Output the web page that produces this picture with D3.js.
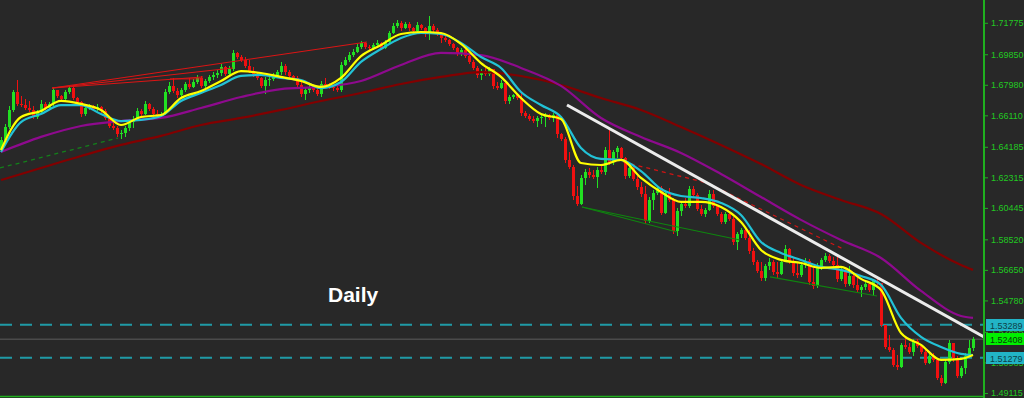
<!DOCTYPE html>
<html>
<head>
<meta charset="utf-8">
<script src="https://cdn.jsdelivr.net/npm/d3@7"></script>
<style>
    html, body { margin: 0; padding: 0; background: #282828; }
    svg { display: block; }
</style>
</head>
<body>
<svg id="chart" width="1024" height="398"></svg>
<script>

//  daily candles, open = previous close
const firstOpen = 1.6399;

const closes = [
    1.6460, 1.6540, 1.6644, 1.6754, 1.6681, 1.6674, 1.6656, 1.6644, 1.6601, 1.6632,
    1.6681, 1.6656, 1.6681, 1.6766, 1.6729, 1.6711, 1.6754, 1.6778, 1.6717, 1.6693,
    1.6619, 1.6656, 1.6668, 1.6650, 1.6662, 1.6638, 1.6595, 1.6546, 1.6534, 1.6497,
    1.6503, 1.6534, 1.6570, 1.6589, 1.6638, 1.6619, 1.6681, 1.6650, 1.6619, 1.6613,
    1.6619, 1.6754, 1.6791, 1.6760, 1.6736, 1.6766, 1.6803, 1.6785, 1.6815, 1.6840,
    1.6791, 1.6821, 1.6846, 1.6858, 1.6870, 1.6907, 1.6864, 1.6895, 1.6993, 1.6968,
    1.6950, 1.6913, 1.6882, 1.6864, 1.6840, 1.6791, 1.6827, 1.6834, 1.6852, 1.6876,
    1.6913, 1.6876, 1.6852, 1.6840, 1.6797, 1.6742, 1.6766, 1.6785, 1.6766, 1.6742,
    1.6803, 1.6791, 1.6785, 1.6778, 1.6766, 1.6919, 1.6950, 1.6980, 1.6999, 1.7029,
    1.7054, 1.7029, 1.7023, 1.7042, 1.7054, 1.7023, 1.7060, 1.7115, 1.7158, 1.7176,
    1.7146, 1.7170, 1.7146, 1.7127, 1.7164, 1.7146, 1.7115, 1.7158, 1.7133, 1.7109,
    1.7084, 1.7072, 1.7048, 1.7023, 1.6987, 1.7011, 1.6974, 1.6938, 1.6901, 1.6858,
    1.6882, 1.6864, 1.6895, 1.6791, 1.6778, 1.6809, 1.6699, 1.6723, 1.6736, 1.6717,
    1.6625, 1.6607, 1.6589, 1.6576, 1.6595, 1.6601, 1.6613, 1.6595, 1.6613, 1.6497,
    1.6466, 1.6338, 1.6295, 1.6117, 1.6069, 1.6228, 1.6264, 1.6246, 1.6234, 1.6277,
    1.6264, 1.6399, 1.6326, 1.6387, 1.6411, 1.6350, 1.6240, 1.6289, 1.6222, 1.6173,
    1.6130, 1.5964, 1.6093, 1.6136, 1.6166, 1.6013, 1.6136, 1.6093, 1.5903, 1.6026,
    1.6069, 1.6056, 1.6160, 1.6124, 1.6038, 1.6007, 1.6032, 1.6130, 1.6056, 1.6007,
    1.5958, 1.6007, 1.5977, 1.5836, 1.5885, 1.5909, 1.5860, 1.5781, 1.5714, 1.5658,
    1.5616, 1.5689, 1.5714, 1.5652, 1.5640, 1.5714, 1.5793, 1.5714, 1.5646, 1.5634,
    1.5695, 1.5720, 1.5591, 1.5567, 1.5689, 1.5726, 1.5750, 1.5720, 1.5695, 1.5610,
    1.5665, 1.5579, 1.5628, 1.5573, 1.5542, 1.5561, 1.5579, 1.5542, 1.5597, 1.5585,
    1.5328, 1.5193, 1.5175, 1.5083, 1.5071, 1.5206, 1.5193, 1.5163, 1.5230, 1.5199,
    1.5163, 1.5095, 1.5138, 1.5114, 1.5004, 1.4973, 1.5102, 1.5218, 1.5126, 1.5016,
    1.5065, 1.5138, 1.5187, 1.52408
];

const highs = [
    1.6479, 1.6558, 1.6668, 1.6766, 1.6827, 1.6729, 1.6711, 1.6699, 1.6668, 1.6644,
    1.6705, 1.6693, 1.6693, 1.6785, 1.6754, 1.6736, 1.6766, 1.6791, 1.6797, 1.6723,
    1.6699, 1.6668, 1.6681, 1.6674, 1.6681, 1.6668, 1.6650, 1.6607, 1.6583, 1.6546,
    1.6521, 1.6546, 1.6589, 1.6607, 1.6656, 1.6650, 1.6699, 1.6687, 1.6662, 1.6644,
    1.6632, 1.6772, 1.6815, 1.6840, 1.6778, 1.6778, 1.6815, 1.6840, 1.6834, 1.6858,
    1.6852, 1.6834, 1.6858, 1.6876, 1.6889, 1.6925, 1.6913, 1.6913, 1.7011, 1.6999,
    1.6980, 1.6968, 1.6950, 1.6907, 1.6876, 1.6846, 1.6846, 1.6852, 1.6870, 1.6889,
    1.6938, 1.6925, 1.6889, 1.6858, 1.6852, 1.6815, 1.6778, 1.6797, 1.6797, 1.6791,
    1.6821, 1.6840, 1.6809, 1.6797, 1.6791, 1.6938, 1.6968, 1.6999, 1.7017, 1.7048,
    1.7066, 1.7060, 1.7042, 1.7054, 1.7072, 1.7060, 1.7072, 1.7127, 1.7176, 1.7195,
    1.7188, 1.7182, 1.7182, 1.7152, 1.7182, 1.7170, 1.7152, 1.7219, 1.7170, 1.7146,
    1.7109, 1.7097, 1.7078, 1.7054, 1.7029, 1.7023, 1.7017, 1.6980, 1.6950, 1.6913,
    1.6895, 1.6901, 1.6907, 1.6889, 1.6815, 1.6827, 1.6797, 1.6736, 1.6742, 1.6742,
    1.6748, 1.6638, 1.6619, 1.6607, 1.6607, 1.6613, 1.6625, 1.6619, 1.6625, 1.6625,
    1.6503, 1.6479, 1.6387, 1.6307, 1.6179, 1.6246, 1.6283, 1.6289, 1.6277, 1.6295,
    1.6307, 1.6417, 1.6521, 1.6399, 1.6423, 1.6417, 1.6356, 1.6301, 1.6301, 1.6240,
    1.6203, 1.6179, 1.6111, 1.6154, 1.6179, 1.6179, 1.6154, 1.6166, 1.6105, 1.6044,
    1.6087, 1.6105, 1.6179, 1.6179, 1.6136, 1.6062, 1.6044, 1.6154, 1.6154, 1.6056,
    1.6020, 1.6020, 1.6026, 1.5989, 1.5897, 1.5922, 1.5922, 1.5909, 1.5799, 1.5726,
    1.5714, 1.5701, 1.5738, 1.5726, 1.5714, 1.5726, 1.5818, 1.5799, 1.5738, 1.5714,
    1.5707, 1.5738, 1.5732, 1.5689, 1.5707, 1.5738, 1.5769, 1.5763, 1.5744, 1.5750,
    1.5677, 1.5677, 1.5689, 1.5640, 1.5616, 1.5573, 1.5591, 1.5591, 1.5610, 1.5610,
    1.5585, 1.5310, 1.5267, 1.5187, 1.5144, 1.5218, 1.5255, 1.5218, 1.5242, 1.5242,
    1.5212, 1.5175, 1.5151, 1.5157, 1.5114, 1.5022, 1.5120, 1.5236, 1.5193, 1.5138,
    1.5077, 1.5157, 1.5236, 1.5255
];

const lows = [
    1.6387, 1.6454, 1.6528, 1.6632, 1.6668, 1.6662, 1.6644, 1.6632, 1.6589, 1.6589,
    1.6625, 1.6644, 1.6644, 1.6668, 1.6717, 1.6699, 1.6699, 1.6742, 1.6705, 1.6681,
    1.6601, 1.6607, 1.6644, 1.6638, 1.6638, 1.6625, 1.6583, 1.6534, 1.6521, 1.6479,
    1.6466, 1.6479, 1.6515, 1.6534, 1.6576, 1.6601, 1.6613, 1.6638, 1.6601, 1.6595,
    1.6601, 1.6613, 1.6742, 1.6748, 1.6717, 1.6723, 1.6754, 1.6772, 1.6778, 1.6803,
    1.6778, 1.6778, 1.6809, 1.6827, 1.6840, 1.6852, 1.6852, 1.6858, 1.6882, 1.6956,
    1.6938, 1.6901, 1.6870, 1.6846, 1.6827, 1.6778, 1.6742, 1.6791, 1.6821, 1.6840,
    1.6858, 1.6858, 1.6840, 1.6827, 1.6778, 1.6723, 1.6705, 1.6748, 1.6754, 1.6729,
    1.6723, 1.6778, 1.6772, 1.6760, 1.6754, 1.6754, 1.6913, 1.6938, 1.6968, 1.6993,
    1.7017, 1.7017, 1.7011, 1.7011, 1.7029, 1.7011, 1.7017, 1.7048, 1.7109, 1.7146,
    1.7127, 1.7140, 1.7127, 1.7115, 1.7121, 1.7133, 1.7091, 1.7072, 1.7121, 1.7097,
    1.7054, 1.7060, 1.7035, 1.7011, 1.6974, 1.6974, 1.6962, 1.6925, 1.6889, 1.6840,
    1.6827, 1.6852, 1.6852, 1.6772, 1.6766, 1.6772, 1.6681, 1.6681, 1.6711, 1.6705,
    1.6607, 1.6595, 1.6576, 1.6564, 1.6540, 1.6558, 1.6540, 1.6583, 1.6570, 1.6472,
    1.6454, 1.6319, 1.6283, 1.6093, 1.6056, 1.6062, 1.6185, 1.6228, 1.6222, 1.6166,
    1.6252, 1.6246, 1.6307, 1.6307, 1.6350, 1.6332, 1.6222, 1.6228, 1.6209, 1.6154,
    1.6111, 1.5946, 1.5952, 1.6032, 1.6124, 1.6001, 1.6007, 1.6081, 1.5885, 1.5873,
    1.5995, 1.6044, 1.6044, 1.6111, 1.6026, 1.5995, 1.5989, 1.6026, 1.6044, 1.5995,
    1.5946, 1.5946, 1.5964, 1.5818, 1.5787, 1.5860, 1.5848, 1.5763, 1.5695, 1.5646,
    1.5597, 1.5597, 1.5665, 1.5634, 1.5616, 1.5634, 1.5714, 1.5701, 1.5628, 1.5616,
    1.5622, 1.5677, 1.5573, 1.5548, 1.5554, 1.5665, 1.5714, 1.5707, 1.5683, 1.5591,
    1.5597, 1.5561, 1.5567, 1.5554, 1.5530, 1.5499, 1.5542, 1.5530, 1.5505, 1.5573,
    1.5316, 1.5181, 1.5163, 1.5071, 1.5053, 1.5065, 1.5181, 1.5151, 1.5138, 1.5187,
    1.5151, 1.5083, 1.5089, 1.5102, 1.4991, 1.4955, 1.4967, 1.5089, 1.5102, 1.5004,
    1.5004, 1.5028, 1.5132, 1.5169
];

//  moving averages (bar index -> price)
const fastBars = [
    0, 5, 10, 15, 20, 25, 30, 35, 40, 45, 50, 55, 60, 65, 70, 75, 80, 85, 90, 95,
    100, 105, 110, 115, 120, 125, 130, 135, 140, 145, 150, 155, 160, 165, 170, 175,
    180, 185, 190, 195, 200, 205, 210, 215, 220, 225, 230, 235, 240, 243
];
const yellowMA = [
    1.6399, 1.6601, 1.6638, 1.6699, 1.6681, 1.6644, 1.6552, 1.6601, 1.6613, 1.6717,
    1.6760, 1.6821, 1.6882, 1.6870, 1.6846, 1.6821, 1.6785, 1.6840, 1.6974, 1.7042,
    1.7109, 1.7121, 1.7115, 1.7048, 1.6931, 1.6846, 1.6717, 1.6619, 1.6589, 1.6319,
    1.6307, 1.6338, 1.6228, 1.6142, 1.6081, 1.6081, 1.6050, 1.5958, 1.5787, 1.5726,
    1.5707, 1.5677, 1.5683, 1.5610, 1.5542, 1.5279, 1.5206, 1.5114, 1.5120, 1.5144
];
const cyanMA = [
    1.6387, 1.6570, 1.6619, 1.6674, 1.6674, 1.6619, 1.6576, 1.6583, 1.6607, 1.6699,
    1.6748, 1.6797, 1.6852, 1.6858, 1.6840, 1.6827, 1.6778, 1.6815, 1.6938, 1.7017,
    1.7084, 1.7115, 1.7109, 1.7054, 1.6968, 1.6901, 1.6754, 1.6674, 1.6601, 1.6411,
    1.6344, 1.6338, 1.6270, 1.6160, 1.6117, 1.6105, 1.6075, 1.6001, 1.5836, 1.5769,
    1.5726, 1.5683, 1.5665, 1.5628, 1.5573, 1.5371, 1.5255, 1.5193, 1.5151, 1.5144
];

const slowBars = [
    0, 10, 20, 30, 40, 50, 60, 70, 80, 90, 100, 110, 120, 130, 140, 150, 160, 170,
    180, 190, 200, 210, 220, 230, 240, 243
];
const purpleMA = [
    1.6387, 1.6479, 1.6546, 1.6576, 1.6595, 1.6656, 1.6723, 1.6772, 1.6785, 1.6821,
    1.6919, 1.6993, 1.6980, 1.6901, 1.6791, 1.6595, 1.6479, 1.6381, 1.6252, 1.6111,
    1.5971, 1.5848, 1.5738, 1.5536, 1.5383, 1.5371
];
const maroonMA = [
    1.6215, 1.6289, 1.6362, 1.6430, 1.6485, 1.6552, 1.6595, 1.6644, 1.6699, 1.6748,
    1.6803, 1.6846, 1.6876, 1.6852, 1.6797, 1.6717, 1.6644, 1.6540, 1.6430, 1.6313,
    1.6185, 1.6093, 1.6007, 1.5830, 1.5695, 1.5665
];

//  drawn trend lines: [bar, price, bar, price]
const redTrendLines = [
    [12.75, 1.6778, 91.5, 1.7060],
    [12.75, 1.6778, 58, 1.6901],
    [12.75, 1.6778, 50.5, 1.6846],
    [42.25, 1.6834, 50.5, 1.6834]
];
const greenTrendLines = [
    [145.25, 1.6050, 169, 1.5897],
    [145.25, 1.6050, 184.75, 1.5848],
    [192.25, 1.5622, 219, 1.5505]
];
const greenDashedLine = [[-0.25, 1.6289], [29.25, 1.6472]];
const redDashedLine = [[155.5, 1.6326], [176.5, 1.6197], [211, 1.5787]];
const whiteTrendLine = [[141.5, 1.6674], [245.75, 1.5255]];

//  price axis and levels
const priceTicks = [1.71775, 1.69850, 1.67980, 1.66110, 1.64185, 1.62315, 1.60445,
    1.58520, 1.56650, 1.54780, 1.52855, 1.50985, 1.49115];
const levelLines = [1.53289, 1.51279];
const lastPrice = 1.52408;

const chartLabel = "Daily";

// ------------------------------------------------------------------

const width = 1024, height = 398;
const plotRight = 984, plotBottom = 396;

const x = d3.scaleLinear().domain([0, 243]).range([1, 973]);
const y = d3.scaleLinear().domain([1.7317, 1.4893]).range([0, 396]);

const svg = d3.select('#chart');

svg.append('rect').attr('width', width).attr('height', height).attr('fill', '#282828');

svg.append('defs').append('clipPath').attr('id', 'plotClip')
    .append('rect').attr('x', 0).attr('y', 0).attr('width', plotRight).attr('height', plotBottom);

const plot = svg.append('g').attr('clip-path', 'url(#plotClip)');

//  current price line and dashed levels
plot.append('line')
    .attr('x1', 0).attr('x2', plotRight)
    .attr('y1', y(lastPrice)).attr('y2', y(lastPrice))
    .attr('stroke', '#4a4a4a').attr('stroke-width', 1.5);

plot.selectAll('.level').data(levelLines).enter().append('line')
    .attr('class', 'level')
    .attr('x1', 0).attr('x2', plotRight)
    .attr('y1', d => y(d)).attr('y2', d => y(d))
    .attr('stroke', '#1f9aa6').attr('stroke-width', 2)
    .attr('stroke-dasharray', '12,8');

//  candles
const candles = closes.map((c, i) => ({
    i: i,
    o: i === 0 ? firstOpen : closes[i - 1],
    c: c,
    h: highs[i],
    l: lows[i]
}));

const bullColor = '#22e022', bearColor = '#f01010';

const candle = plot.append('g').attr('shape-rendering', 'crispEdges')
    .selectAll('g').data(candles).enter().append('g');

candle.append('line')
    .attr('x1', d => Math.round(x(d.i)) + 0.5).attr('x2', d => Math.round(x(d.i)) + 0.5)
    .attr('y1', d => y(d.h)).attr('y2', d => y(d.l))
    .attr('stroke', d => d.c >= d.o ? bullColor : bearColor);

candle.append('rect')
    .attr('x', d => Math.round(x(d.i)) - 1)
    .attr('width', 3)
    .attr('y', d => y(Math.max(d.o, d.c)))
    .attr('height', d => Math.max(1, Math.abs(y(d.o) - y(d.c))))
    .attr('fill', d => d.c >= d.o ? bullColor : bearColor);

//  trend lines under the averages
const segLine = d3.line().x(d => x(d[0])).y(d => y(d[1]));

redTrendLines.forEach(t => {
    plot.append('path').attr('d', segLine([[t[0], t[1]], [t[2], t[3]]]))
        .attr('stroke', '#dd1414').attr('stroke-width', 1).attr('fill', 'none');
});
greenTrendLines.forEach(t => {
    plot.append('path').attr('d', segLine([[t[0], t[1]], [t[2], t[3]]]))
        .attr('stroke', '#0f850f').attr('stroke-width', 1.2).attr('fill', 'none');
});
plot.append('path').attr('d', segLine(greenDashedLine))
    .attr('stroke', '#13801a').attr('stroke-width', 1.3).attr('stroke-dasharray', '4,4').attr('fill', 'none');
plot.append('path').attr('d', segLine(redDashedLine))
    .attr('stroke', '#d01414').attr('stroke-width', 1.3).attr('stroke-dasharray', '4,4').attr('fill', 'none');

//  moving averages
const maLine = d3.line().x(d => x(d[0])).y(d => y(d[1])).curve(d3.curveMonotoneX);

const maSeries = [
    {bars: slowBars, vals: maroonMA, color: '#820000'},
    {bars: slowBars, vals: purpleMA, color: '#8e0a8e'},
    {bars: fastBars, vals: cyanMA, color: '#22c2d6'},
    {bars: fastBars, vals: yellowMA, color: '#ffff00'}
];

maSeries.forEach(s => {
    plot.append('path')
        .datum(s.bars.map((b, k) => [b, s.vals[k]]))
        .attr('d', maLine)
        .attr('fill', 'none')
        .attr('stroke', s.color)
        .attr('stroke-width', 2.2);
});

plot.append('path').attr('d', segLine(whiteTrendLine))
    .attr('stroke', '#ececec').attr('stroke-width', 3).attr('fill', 'none');

//  label
svg.append('text')
    .attr('x', 328).attr('y', 302)
    .attr('font-family', 'Liberation Sans, Arial, sans-serif')
    .attr('font-weight', 'bold').attr('font-size', 21)
    .attr('fill', '#ffffff')
    .text(chartLabel);

//  price axis
const axis = svg.append('g')
    .attr('transform', `translate(${plotRight + 1},0)`)
    .call(d3.axisRight(y).tickValues(priceTicks).tickFormat(d3.format('.5f')).tickSize(3).tickPadding(3));
axis.select('.domain').remove();
axis.selectAll('line').attr('stroke', '#1fb01f');
axis.selectAll('text')
    .attr('fill', '#22c822')
    .attr('font-family', 'Liberation Sans, Arial, sans-serif')
    .attr('font-size', 9);

svg.append('line')
    .attr('x1', plotRight).attr('x2', plotRight).attr('y1', 0).attr('y2', height)
    .attr('stroke', '#1fb01f').attr('stroke-width', 2);
svg.append('line')
    .attr('x1', 0).attr('x2', plotRight).attr('y1', plotBottom + 0.5).attr('y2', plotBottom + 0.5)
    .attr('stroke', '#1fb01f').attr('stroke-width', 1.5);

//  price markers on the axis (they cover the two ticks behind them, as in MT4)
const markers = [
    {v: levelLines[0], fill: '#22b4c6', text: '#0e3f46'},
    {v: lastPrice, fill: '#00f000', text: '#0a3a0a'},
    {v: levelLines[1], fill: '#22b4c6', text: '#0e3f46'}
];
const mk = svg.append('g').selectAll('g').data(markers).enter().append('g');
mk.append('rect')
    .attr('x', plotRight + 2).attr('y', d => Math.round(y(d.v)) - 6)
    .attr('width', width - plotRight - 2).attr('height', 12)
    .attr('fill', d => d.fill);
mk.append('text')
    .attr('x', plotRight + 6).attr('y', d => Math.round(y(d.v)) + 3.5)
    .attr('font-family', 'Liberation Sans, Arial, sans-serif').attr('font-size', 9)
    .attr('fill', d => d.text)
    .text(d => d3.format('.5f')(d.v));

</script>
</body>
</html>
